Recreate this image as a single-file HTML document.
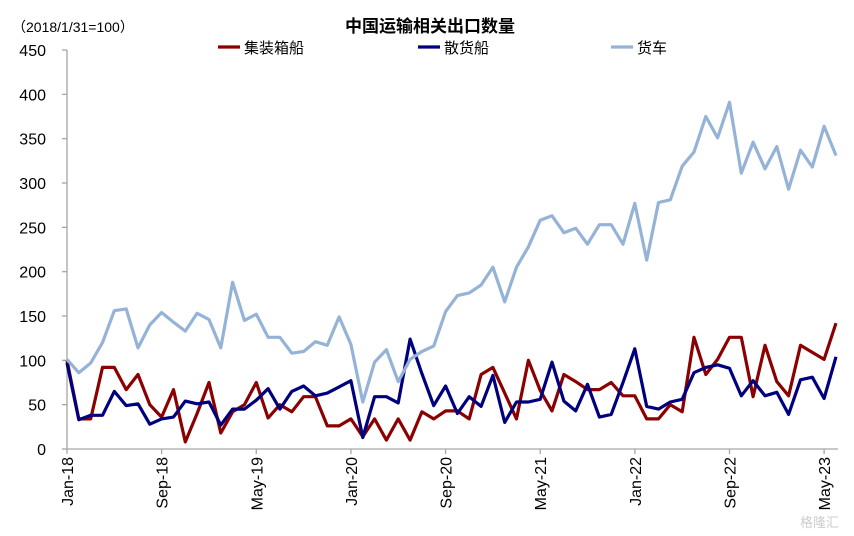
<!DOCTYPE html>
<html><head><meta charset="utf-8"><style>
body{margin:0;background:#fff;}
svg{display:block;font-family:"Liberation Sans","Noto Sans CJK SC",sans-serif;}
</style></head><body>
<svg id="chart" width="854" height="536">
<text x="12" y="32" font-size="14" fill="#000">（2018/1/31=100）</text>
<text x="430" y="32" font-size="17" font-weight="bold" text-anchor="middle" fill="#000">中国运输相关出口数量</text>
<g id="legend"></g>
<g id="axes"></g>
<g id="series"></g>
<text x="800" y="527" font-size="13" fill="#ccc">格隆汇</text>
</svg>
<script>
const seriesNames = ["集装箱船","散货船","货车"];
const seriesColors = ["#8b0000","#00007f","#95b3d7"];
const tickLabels = ["Jan-18","Sep-18","May-19","Jan-20","Sep-20","May-21","Jan-22","Sep-22","May-23"];
const yTicks = [0,50,100,150,200,250,300,350,400,450];
const container = [100,34,34,92,92,67,84,50,36,67,8,40,75,18,42,50,75,35,50,42,59,59,26,26,34,14,34,10,34,10,42,34,43,43,34,84,92,63,34,100,66,43,84,76,67,67,75,60,60,34,34,50,42,126,84,101,126,126,59,117,76,60,117,109,101,142];
const bulk = [97,33,38,38,65,49,51,28,34,36,54,51,53,27,45,45,55,68,45,65,71,60,63,70,77,13,59,59,52,124,85,49,71,40,59,48,83,30,53,53,56,98,54,43,73,36,39,75,113,48,45,53,56,86,92,95,91,60,77,60,64,39,78,81,57,104];
const truck = [101,86,97,120,156,158,114,140,154,143,133,153,146,114,188,145,152,126,126,108,110,121,117,149,118,53,98,112,76,101,110,116,155,173,176,185,205,166,205,228,258,263,244,249,231,253,253,231,277,213,278,281,319,335,375,351,391,311,346,316,341,293,337,318,364,331];
const allSeries = [container, bulk, truck];

const NS="http://www.w3.org/2000/svg";
const x0=67, dx=11.83, yBase=449, yTop=50, yMax=450;
const X=i=>x0+i*dx;
const Y=v=>yBase-(v/yMax)*(yBase-yTop);
function mk(tag,attrs,parent){const e=document.createElementNS(NS,tag);for(const k in attrs)e.setAttribute(k,attrs[k]);parent.appendChild(e);return e;}
const axes=document.getElementById('axes'), ser=document.getElementById('series'), leg=document.getElementById('legend');

let e=mk('line',{x1:x0,y1:yTop,x2:x0,y2:yBase,stroke:'#a6a6a6','stroke-width':1.3},axes);


e=mk('line',{x1:x0,y1:yBase,x2:X(65)+2,y2:yBase,stroke:'#a6a6a6','stroke-width':1.3},axes);


yTicks.forEach(v=>{
  mk('line',{x1:x0-5,y1:Y(v),x2:x0,y2:Y(v),stroke:'#a6a6a6','stroke-width':1.3},axes);
  const t=mk('text',{x:46,y:Y(v)+6,'font-size':16,'text-anchor':'end',fill:'#000'},axes);
  t.textContent=v;
  
  
});
tickLabels.forEach((lab,k)=>{
  const xx=X(k*8);
  mk('line',{x1:xx,y1:yBase,x2:xx,y2:yBase+5,stroke:'#a6a6a6','stroke-width':1.3},axes);
  const t=mk('text',{x:0,y:0,'font-size':16,'text-anchor':'end',fill:'#000',transform:`translate(${xx+6},${yBase+8}) rotate(-90)`},axes);
  t.textContent=lab;
  
  
});
allSeries.forEach((arr,s)=>{
  const p=mk('polyline',{points:arr.map((v,i)=>X(i).toFixed(1)+','+Y(v).toFixed(1)).join(' '),fill:'none',stroke:seriesColors[s],'stroke-width':3.2,'stroke-linejoin':'round'},ser);
  
  
});
const legX=[218,418,611];
seriesNames.forEach((n,s)=>{
  const l=mk('line',{x1:legX[s],y1:47,x2:legX[s]+22,y2:47,stroke:seriesColors[s],'stroke-width':3.2},leg);
  
  
  const t=mk('text',{x:legX[s]+26,y:53,'font-size':15,fill:'#000'},leg);
  t.textContent=n;
  
  
});
</script>
</body></html>
